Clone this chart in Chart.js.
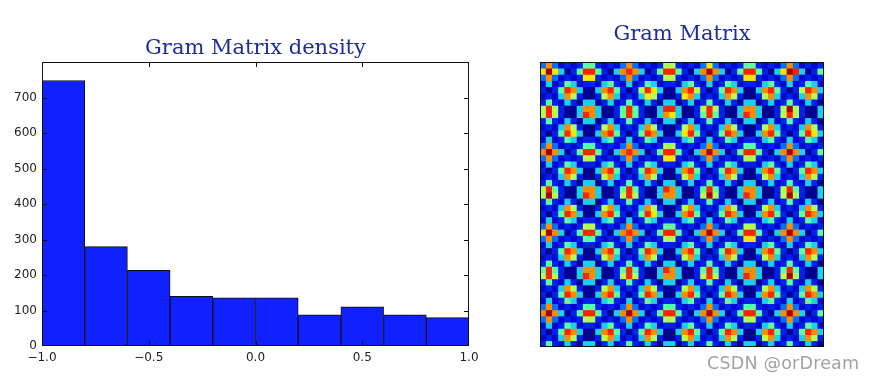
<!DOCTYPE html>
<html><head><meta charset="utf-8">
<script src="https://cdn.jsdelivr.net/npm/chart.js@4"></script>
<style>
html,body{margin:0;padding:0;background:#fff;width:875px;height:381px;overflow:hidden}
canvas{position:absolute;top:0;filter:blur(0.35px)}
#mark{position:absolute;left:707px;top:353px;font:17.5px "DejaVu Sans",sans-serif;color:#a2a2a2;white-space:nowrap;letter-spacing:0.2px}
</style></head><body>
<div style="position:absolute;left:0;top:0;width:490px;height:381px"><canvas id="hist"></canvas></div>
<div style="position:absolute;left:490px;top:0;width:385px;height:381px"><canvas id="gram"></canvas></div>
<div id="mark">CSDN @orDream</div>
<script>
const histTitle = "Gram Matrix density";
const gramTitle = "Gram Matrix";
const binCenters = [-0.9,-0.7,-0.5,-0.3,-0.1,0.1,0.3,0.5,0.7,0.9];
const binCounts = [748,280,213,140,136,136,88,110,88,80];
const yTicks = [0,100,200,300,400,500,600,700];
const xTicks = [-1,-0.5,0,0.5,1];
const jetLevels = ["#000090","#0008cc","#0020ec","#0070ff","#18d0f0","#60ffa0","#b4ff50","#ffe600","#ff8c00","#ff2400","#a80000"];
const gramRows = [
"3831212552121 3831212662121 3731212552121 3831212",
"7a74025995204 8984025995204 8a84025995204 7a94025",
"3831212772121 3831212662121 3831212772121 3831212",
"1412541221452 1412541221452 1412541221452 1412541",
"2025984004895 2026974004896 2025984004895 2026984",
"1214862002684 1214762002784 1214862002684 1214862",
"2521420440241 2521420440241 2521420440241 2521420",
"6962004884002 5952004994002 6962004884002 6a62004",
"6962004984002 5952004874002 5952004984002 6962004",
"2521420440241 2521420440241 2521420440241 2521420",
"1214862002684 1214862002684 1214862002684 1214862",
"2025974004895 2025984004795 2025984004895 2025974",
"1412541221452 1412541221452 1412541221452 1412541",
"3831212552121 3831212662121 3831212552121 3831212",
"8a84025995204 8984025995204 8a84025995204 8a84025",
"3831212662121 3831212772121 3831212662121 3831212",
"1412541221452 1412541221452 1412541221452 1412541",
"2025984004895 2025984004895 2025984004895 2025984",
"1214862002684 1214862002684 1214862002684 1214862",
"2521420440241 2521420440241 2521420440241 2521420",
"6952004884002 5952004984002 5952004884002 6952004",
"6a62004984002 6962004884002 6a62004984002 6a62004",
"2521420440241 2521420440241 2521420440241 2521420",
"1214862002684 1214862002684 1214862002684 1214862",
"2025984004895 2025974004895 2025984004895 2025984",
"1412541221452 1412541221452 1412541221452 1412541",
"3831212662121 3831212552121 3831212662121 3831212",
"7a84025995204 8984025995204 8a84025995204 8a84025",
"3831212552121 3831212662121 3831212772121 3831212",
"1412541221452 1412541221452 1412541221452 1412541",
"2025984004895 2025984004895 2025984004895 2025984",
"1214862002684 1214862002684 1214862002684 1214862",
"2521420440241 2521420440241 2521420440241 2521420",
"5952004884002 5952004984002 5952004884002 5952004",
"6962004984002 6962004884002 6962004984002 6a62004",
"2521420440241 2521420440241 2521420440241 2521420",
"1214862002684 1214862002684 1214862002684 1214862",
"2025984004895 2025984004895 2025984004895 2025984",
"1412541221452 1412541221452 1412541221452 1412541",
"3831212552121 3831212552121 3831212552121 3831212",
"8a84025995204 8a84025995204 8a84025995204 8a84025",
"3831212662121 3831212662121 3831212662121 3831212",
"1412541221452 1412541221452 1412541221452 1412541",
"2025984004895 2025984004895 2025984004895 2025984",
"1214862002684 1214862002684 1214862002684 1214862",
"2521420440241 2521420440241 2521420440241 2521420"
];

const TICK = "#222";
const frame = {
  id:"frame",
  beforeDatasetsDraw(c,a,o){
    if(!o.fill) return;
    const {left,top,width,height}=c.chartArea;
    c.ctx.save();c.ctx.fillStyle=o.fill;c.ctx.fillRect(left,top,width,height);c.ctx.restore();
  },
  afterDatasetsDraw(c,a,o){
    const {left,right,top,bottom}=c.chartArea, g=c.ctx;
    g.save();g.strokeStyle="#111";g.lineWidth=1;
    g.strokeRect(left+.5,top+.5,right-left-1,bottom-top-1);
    if(o.ticks){
      g.beginPath();
      c.scales.x.ticks.forEach(t=>{const p=Math.min(right-.5,Math.round(c.scales.x.getPixelForValue(t.value))+.5);
        g.moveTo(p,bottom);g.lineTo(p,bottom-5);g.moveTo(p,top);g.lineTo(p,top+5);});
      c.scales.y.ticks.forEach(t=>{const p=Math.min(bottom-.5,Math.round(c.scales.y.getPixelForValue(t.value))+.5);
        g.moveTo(left,p);g.lineTo(left+5,p);g.moveTo(right,p);g.lineTo(right-5,p);});
      g.stroke();
    }
    g.restore();
  }
};
Chart.register(frame);
const titleFont={family:"'DejaVu Serif',serif",size:21,weight:"normal"};

new Chart(document.getElementById("hist"),{
  type:"bar",
  data:{datasets:[{
    data:binCenters.map((x,i)=>({x,y:binCounts[i]})),
    backgroundColor:"#1020ff",borderColor:"#111",borderWidth:1,
    barPercentage:1,categoryPercentage:1
  }]},
  options:{
    responsive:true,maintainAspectRatio:false,animation:false,
    layout:{padding:{right:21,left:0,top:0,bottom:0}},
    plugins:{legend:{display:false},tooltip:{enabled:false},
      frame:{ticks:true},
      title:{display:true,fullSize:false,text:histTitle,color:"#1e2c96",font:titleFont,padding:{top:35.5,bottom:1.3}}},
    scales:{
      x:{type:"linear",min:-1,max:1,offset:false,
        afterFit(s){s.height=35},
        afterBuildTicks(s){s.ticks=xTicks.map(value=>({value}))},
        grid:{display:false,drawTicks:false},border:{display:false},
        ticks:{color:TICK,padding:5,maxRotation:0,font:{family:"'DejaVu Sans'",size:12},
          callback:v=>(v<0?"\u2212":"")+(Math.abs(v)).toFixed(1)}},
      y:{min:0,max:800,
        afterFit(s){s.width=42},
        afterBuildTicks(s){s.ticks=yTicks.map(value=>({value}))},
        grid:{display:false,drawTicks:false},border:{display:false},
        ticks:{color:TICK,padding:5,font:{family:"'DejaVu Sans'",size:12}}}
    }
  }
});

const cells = gramRows.map(r=>r.replace(/ /g,""));
const cols = cells[0].split("").map((_,j)=>j);
new Chart(document.getElementById("gram"),{
  type:"bar",
  data:{labels:cols,datasets:cells.map((r,i)=>({
    data:cols.map(()=>[i,i+1]),
    backgroundColor:r.split("").map(ch=>jetLevels[parseInt(ch,16)]),
    borderWidth:0,barPercentage:1,categoryPercentage:1,grouped:false
  }))},
  options:{
    responsive:true,maintainAspectRatio:false,animation:false,
    layout:{padding:{left:50,right:51,top:0,bottom:34}},
    plugins:{legend:{display:false},tooltip:{enabled:false},
      frame:{ticks:false,fill:"#0008cc"},
      title:{display:true,text:gramTitle,color:"#1e2c96",font:titleFont,padding:{top:22,bottom:14.8}}},
    scales:{
      x:{display:false,grid:{display:false}},
      y:{display:false,min:0,max:cells.length,reverse:true,grid:{display:false}}
    }
  }
});
</script>
</body></html>
